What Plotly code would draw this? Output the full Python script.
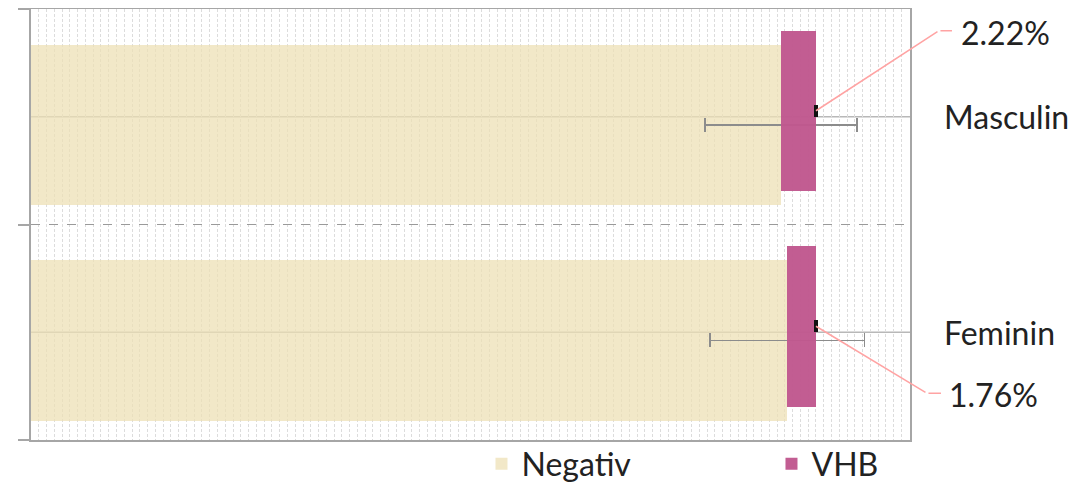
import plotly.graph_objects as go

categories = ["Feminin", "Masculin"]
negativ = [97.3, 96.5]
vhb = [3.7, 4.5]
negativ_err = [9.95, 9.8]
vhb_err = [0.15, 0.15]
pct_labels = ["1.76%", "2.22%"]
series_names = ["Negativ", "VHB"]

FONT = "Lato"
FS = 32
TXT = "#222222"
PINK = "#FFA3A3"

fig = go.Figure()
fig.add_trace(go.Bar(
    y=categories, x=negativ, orientation="h", name=series_names[0],
    marker=dict(color="rgba(238,224,182,0.75)", line=dict(width=0)),
    width=0.745, offset=-0.41,
    error_x=dict(type="data", array=negativ_err, color="#8c8c8c", thickness=1.5, width=7),
))
fig.add_trace(go.Bar(
    y=categories, x=vhb, base=negativ, orientation="h", name=series_names[1],
    marker=dict(color="rgba(192,88,142,0.97)", line=dict(width=0)),
    width=0.745, offset=-0.345,
    error_x=dict(type="data", array=vhb_err, color="#111111", thickness=1.5, width=6),
))

# category centre lines
for c in categories:
    fig.add_shape(type="line", xref="paper", x0=0, x1=1, yref="y", y0=c, y1=c,
                  line=dict(color="#b8b8b8", width=1.5), layer="below")

annotations = []
# category labels on the right
for c in categories:
    annotations.append(dict(xref="paper", x=1, yref="y", y=c, text=c, showarrow=False,
                            xanchor="left", yanchor="middle", xshift=32,
                            font=dict(family=FONT, size=FS, color=TXT)))

# percentage labels with leader lines
totals = [n + v for n, v in zip(negativ, vhb)]
label_geo = {
    "Masculin": dict(tx=143, ty=84, ax=123, ay=-80, stub=13),
    "Feminin": dict(tx=131, ty=-62, ax=111, ay=67, stub=14),
}
for c, tot, lab in zip(categories, totals, pct_labels):
    g = label_geo[c]
    # diagonal leader
    annotations.append(dict(xref="x", x=tot, yref="y", y=c, yshift=6, text="",
                            showarrow=True, arrowhead=0, arrowwidth=1.5, arrowcolor=PINK,
                            ax=g["ax"], ay=g["ay"], standoff=0, startstandoff=0,
                            font=dict(size=1)))
    # horizontal stub
    annotations.append(dict(xref="x", x=tot, yref="y", y=c,
                            xshift=g["ax"] + g["stub"], yshift=6 - g["ay"], text="",
                            showarrow=True, arrowhead=0, arrowwidth=1.5, arrowcolor=PINK,
                            ax=-g["stub"], ay=0, standoff=0, startstandoff=0,
                            font=dict(size=1)))
    annotations.append(dict(xref="x", x=tot, yref="y", y=c, text=lab, showarrow=False,
                            xanchor="left", yanchor="middle", xshift=g["tx"], yshift=g["ty"],
                            font=dict(family=FONT, size=FS, color=TXT)))

fig.update_layout(
    width=1083, height=477,
    margin=dict(l=23, r=181, t=1, b=45, autoexpand=False),
    plot_bgcolor="white", paper_bgcolor="white",
    barmode="overlay", bargap=0,
    font=dict(family=FONT, size=FS, color=TXT),
    showlegend=True,
    legend=dict(orientation="h", x=0.5125, xanchor="left", y=0.008, yanchor="top",
                entrywidth=245, entrywidthmode="pixels",
                font=dict(family=FONT, size=FS, color=TXT), traceorder="normal",
                bgcolor="rgba(0,0,0,0)"),
    annotations=annotations,
)
fig.update_xaxes(range=[0, 113.1], dtick=1, showgrid=True, gridcolor="#dcdcdc",
                 griddash="3px,2px", gridwidth=1, showticklabels=False, ticks="",
                 zeroline=False, showline=True, mirror=True, linecolor="#a6a6a6", linewidth=1.5)
fig.update_yaxes(type="category", categoryorder="array", categoryarray=categories,
                 range=[-0.5, 1.5], tickson="boundaries", ticks="outside", ticklen=11,
                 tickcolor="#a6a6a6", tickwidth=1.5, showticklabels=False,
                 showgrid=True, gridcolor="#9a9a9a", griddash="dash", gridwidth=1,
                 showline=True, mirror=True, linecolor="#a6a6a6", linewidth=2, zeroline=False)

fig.write_html("out.html")
